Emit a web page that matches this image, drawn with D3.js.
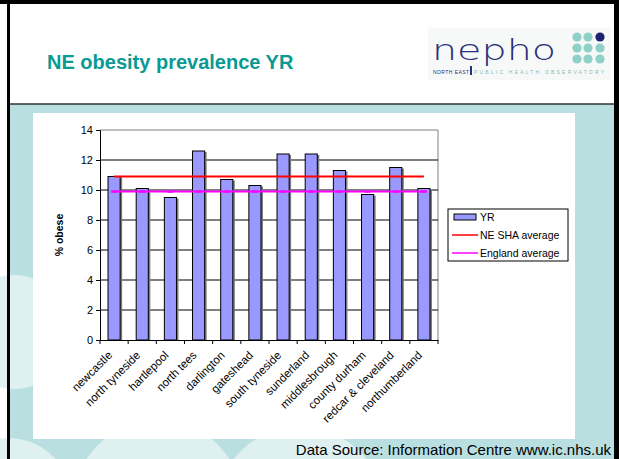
<!DOCTYPE html>
<html lang="en">
  <head>
    <meta charset="utf-8">
    <title>NE obesity prevalence YR</title>
    <style>
      body { margin: 0; background: #fff; }
      svg { display: block; font-family: "Liberation Sans", Arial, sans-serif; }
    </style>
  </head>
  <body>
    <svg class="chart"></svg>
    <script src="https://d3js.org/d3.v7.min.js"></script>
    <script>
      // values
      const areas = ["newcastle", "north tyneside", "hartlepool", "north tees", "darlington",
        "gateshead", "south tyneside", "sunderland", "middlesbrough", "county durham",
        "redcar & cleveland", "northumberland"];
      const yr = [10.9, 10.1, 9.5, 12.6, 10.7, 10.3, 12.4, 12.4, 11.3, 9.7, 11.5, 10.1];
      const neSha = [10.9, 10.9, 10.9, 10.9, 10.9, 10.9, 10.9, 10.9, 10.9, 10.9, 10.9, 10.9];
      const england = [9.9, 9.9, 9.9, 9.9, 9.9, 9.9, 9.9, 9.9, 9.9, 9.9, 9.9, 9.9];
      const yTicks = [0, 2, 4, 6, 8, 10, 12, 14];
      const legendLabels = ["YR", "NE SHA average", "England average"];

      const W = 619, H = 459;
      const svg = d3.select(".chart").attr("width", W).attr("height", H);

      // slide background
      svg.append("rect").attr("x", 0).attr("y", 0).attr("width", W).attr("height", H).attr("fill", "#fff");
      svg.append("rect").attr("x", 8).attr("y", 104).attr("width", W - 8).attr("height", H - 104).attr("fill", "#b9dfe1");
      const bg = svg.append("g").attr("fill", "#dff0f1");
      [[14, 332, 57], [8, 502, 64], [158, 505, 85], [300, 512, 85]].forEach(c => {
        bg.append("circle").attr("cx", c[0]).attr("cy", c[1]).attr("r", c[2]);
      });
      svg.append("line").attr("x1", 8).attr("x2", W).attr("y1", 104).attr("y2", 104)
        .attr("stroke", "#333").attr("stroke-width", 1.5);
      // frame
      svg.append("rect").attr("x", 0).attr("y", 0).attr("width", W).attr("height", 4).attr("fill", "#000");
      svg.append("rect").attr("x", 7).attr("y", 0).attr("width", 3).attr("height", H).attr("fill", "#000");
      svg.append("rect").attr("x", 614).attr("y", 0).attr("width", 5).attr("height", H).attr("fill", "#000");

      // title
      svg.append("text").attr("x", 47).attr("y", 69)
        .attr("font-size", 20).attr("font-weight", "bold").attr("fill", "#0a9a94")
        .text("NE obesity prevalence YR");

      // logo
      const logo = svg.append("g");
      logo.append("rect").attr("x", 428).attr("y", 28).attr("width", 183).attr("height", 52).attr("fill", "#f7f8f8");
      logo.append("text").attr("x", 432).attr("y", 60).attr("font-size", 28).attr("fill", "#27307a")
        .attr("textLength", 124).attr("lengthAdjust", "spacingAndGlyphs").attr("font-weight", 300)
        .style("font-family", "'DejaVu Sans', sans-serif").text("nepho");
      const dotX = [577, 588, 600], dotY = [37, 48, 59];
      dotY.forEach((cy, r) => dotX.forEach((cx, c) => {
        logo.append("circle").attr("cx", cx).attr("cy", cy).attr("r", 4.6)
          .attr("fill", r === 0 && c === 2 ? "#1c2370" : "#8fd0c8");
      }));
      logo.append("text").attr("x", 433).attr("y", 74).attr("font-size", 5).attr("fill", "#27307a")
        .attr("textLength", 36).text("NORTH EAST");
      logo.append("rect").attr("x", 470).attr("y", 66).attr("width", 2).attr("height", 9).attr("fill", "#27307a");
      logo.append("text").attr("x", 474).attr("y", 74).attr("font-size", 5).attr("fill", "#8ab8b6")
        .attr("textLength", 130).text("PUBLIC HEALTH OBSERVATORY");

      // chart panel
      svg.append("rect").attr("x", 33).attr("y", 113).attr("width", 542).attr("height", 326).attr("fill", "#fff");

      const x = d3.scaleBand().domain(areas).range([100, 438]);
      const y = d3.scaleLinear().domain([0, 14]).range([340, 130]);
      const barW = x.bandwidth() * 0.43;
      const cx = d => x(d) + x.bandwidth() / 2;

      // plot box: grey top / right
      svg.append("path").attr("d", `M100,${y(14)}H438V${y(0)}`).attr("fill", "none").attr("stroke", "#808080");
      svg.append("g").selectAll("line").data(yTicks.slice(1, -1)).join("line")
        .attr("x1", 100).attr("x2", 438).attr("y1", d => y(d)).attr("y2", d => y(d))
        .attr("stroke", "#000").attr("stroke-width", 1);

      // bars with shadow
      const bars = svg.append("g");
      bars.selectAll("rect.sh").data(yr).join("rect").attr("class", "sh")
        .attr("x", (d, i) => cx(areas[i]) - barW / 2 + 2).attr("y", d => y(d) + 1)
        .attr("width", barW).attr("height", d => y(0) - y(d) - 1).attr("fill", "#7a7a7a");
      bars.selectAll("rect.bar").data(yr).join("rect").attr("class", "bar")
        .attr("x", (d, i) => cx(areas[i]) - barW / 2).attr("y", d => y(d))
        .attr("width", barW).attr("height", d => y(0) - y(d))
        .attr("fill", "#9999ff").attr("stroke", "#000").attr("stroke-width", 1);

      // average lines
      const line = d3.line().x((d, i) => cx(areas[i])).y(d => y(d));
      svg.append("path").attr("d", line(neSha)).attr("fill", "none").attr("stroke", "#ff0000").attr("stroke-width", 2);
      svg.append("path").attr("d", line(england)).attr("fill", "none").attr("stroke", "#ff00ff").attr("stroke-width", 2);
      svg.append("g").selectAll("line").data(england).join("line")
        .attr("x1", (d, i) => cx(areas[i]) - 3).attr("x2", (d, i) => cx(areas[i]) + 3)
        .attr("y1", d => y(d)).attr("y2", d => y(d))
        .attr("stroke", "#ff00ff").attr("stroke-width", 2.5);

      // axes
      const yAxis = svg.append("g").attr("transform", "translate(100,0)")
        .call(d3.axisLeft(y).tickValues(yTicks).tickSize(4).tickPadding(3));
      yAxis.selectAll("text").attr("font-size", 11).attr("fill", "#000").style("font-family", "'Liberation Sans', Arial, sans-serif");
      yAxis.select(".domain").attr("stroke", "#000");

      const xAxis = svg.append("g").attr("transform", `translate(0,${y(0)})`)
        .call(d3.axisBottom(x).tickSize(0).tickFormat(""));
      xAxis.select(".domain").attr("stroke", "#000");
      const bounds = x.domain().map(d => x(d)).concat([438]);
      xAxis.selectAll("line.bd").data(bounds).join("line").attr("class", "bd")
        .attr("x1", d => d).attr("x2", d => d).attr("y1", 0).attr("y2", 4).attr("stroke", "#000");
      xAxis.selectAll("text.lab").data(areas).join("text").attr("class", "lab")
        .attr("transform", d => `translate(${cx(d) - 4},13) rotate(-45)`)
        .attr("text-anchor", "end").attr("dy", "0.35em")
        .attr("font-size", 11.5).attr("fill", "#000").text(d => d);

      svg.append("text").attr("transform", "translate(63,235) rotate(-90)")
        .attr("text-anchor", "middle").attr("font-size", 10.5).attr("font-weight", "bold").text("% obese");

      // legend
      const lg = svg.append("g").attr("transform", "translate(448,209)");
      lg.append("rect").attr("width", 120).attr("height", 52).attr("fill", "#fff").attr("stroke", "#000");
      legendLabels.forEach((t, i) => {
        const ly = 8 + i * 18;
        if (i === 0) {
          lg.append("rect").attr("x", 6).attr("y", ly - 3).attr("width", 22).attr("height", 6)
            .attr("fill", "#9999ff").attr("stroke", "#000");
        } else {
          lg.append("line").attr("x1", 4).attr("x2", 30).attr("y1", ly).attr("y2", ly)
            .attr("stroke", i === 1 ? "#ff0000" : "#ff00ff").attr("stroke-width", 1.5);
        }
        lg.append("text").attr("x", 32).attr("y", ly).attr("dy", "0.35em")
          .attr("font-size", 10.5).text(t);
      });

      // source
      svg.append("text").attr("x", 611).attr("y", 455).attr("text-anchor", "end")
        .attr("font-size", 15).attr("fill", "#000").text("Data Source: Information Centre www.ic.nhs.uk");
    </script>
  </body>
</html>
